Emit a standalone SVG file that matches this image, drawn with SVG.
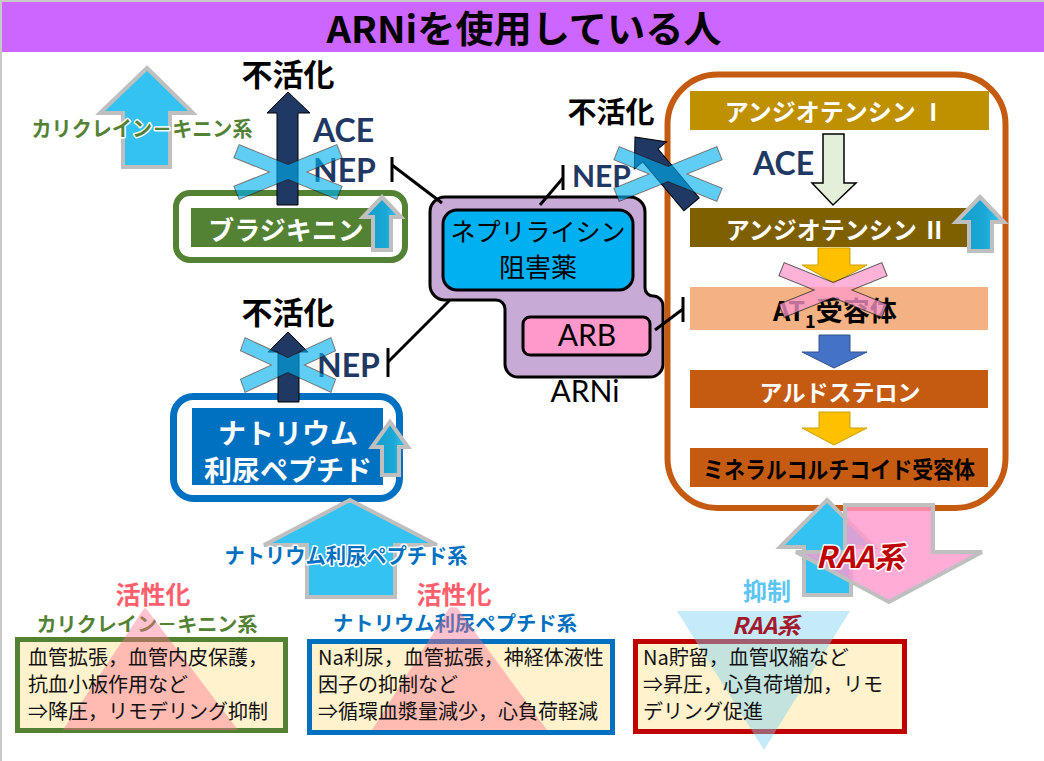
<svg xmlns="http://www.w3.org/2000/svg" xmlns:xlink="http://www.w3.org/1999/xlink" width="1044" height="761" viewBox="0 0 1044 761">
<style>
.jp{font-family:'Noto Sans CJK JP',sans-serif}
.lat{font-family:Lato,'Noto Sans CJK JP',sans-serif}
.b{font-weight:700}
.navy{fill:#1F3864}
.wt{fill:#fff}
.ga{stroke:#BFBFBF;stroke-width:4}
.na{fill:#1F3864;stroke:#000;stroke-width:1}
.inh{stroke:#000;stroke-width:3;fill:none}
.ol{stroke:#fff;stroke-width:3;paint-order:stroke;stroke-linejoin:round}
.body{font-size:20px;fill:#111}
.cream{fill:#FFF2CC}
</style>
<defs>
<rect id="bar" x="-55" y="-6.5" width="110" height="13"/>
<g id="xcross">
<g stroke="#222" stroke-width="2" fill="none"><use href="#bar" transform="rotate(22)"/><use href="#bar" transform="rotate(-22)"/></g>
<g stroke="none"><use href="#bar" transform="rotate(22)"/><use href="#bar" transform="rotate(-22)"/></g>
</g>
<linearGradient id="sg" x1="0" y1="0" x2="1" y2="0">
<stop offset="0" stop-color="#139DCB"/><stop offset="0.6" stop-color="#1AA8D6"/><stop offset="1" stop-color="#3CC8F5"/>
</linearGradient>
</defs>

<rect x="0" y="0" width="1044" height="761" fill="#fff"/>
<line x1="1" y1="0" x2="1" y2="761" stroke="#C8C8C8" stroke-width="2"/>
<line x1="0" y1="1" x2="1044" y2="1" stroke="#C8C8C8" stroke-width="2"/>

<g id="title">
<rect x="2" y="2" width="1042" height="50" fill="#CC66FF"/>
<text class="jp b" x="524" y="43" font-size="37" text-anchor="middle" textLength="395" lengthAdjust="spacingAndGlyphs" fill="#000">ARNiを使用している人</text>
</g>

<g id="kallikrein-top">
<polygon class="ga" points="147,68 193,113 170,113 170,167 123,167 123,113 100,113" fill="#33C2F2"/>
<text class="jp b ol" x="142" y="136" font-size="21" text-anchor="middle" textLength="221" lengthAdjust="spacingAndGlyphs" fill="#548235">カリクレイン－キニン系</text>
</g>

<g id="bradykinin">
<rect x="176" y="193" width="229" height="67" rx="14" fill="#fff" stroke="#548235" stroke-width="6"/>
<rect x="191" y="208" width="187" height="39" fill="#548235"/>
<text class="jp b wt" x="286" y="240" font-size="26" text-anchor="middle">ブラジキニン</text>
<polygon class="ga" points="382,197 401,217 391,217 391,250 373,250 373,217 363,217" fill="url(#sg)" stroke-width="3"/>
</g>

<g id="inactivation-1">
<text class="jp b" x="288" y="86" font-size="31" text-anchor="middle" fill="#000">不活化</text>
<polygon class="na" points="288,92 310,113 298,113 298,205 277,205 277,113 267,113"/>
<text class="lat b navy" x="313" y="142" font-size="32">ACE</text>
<text class="lat b navy" x="313" y="182" font-size="32">NEP</text>
<use href="#xcross" fill="#00B0F0" opacity="0.62" transform="translate(288,172)"/>
</g>

<g id="natriuretic">
<rect x="173.5" y="396.5" width="226" height="102" rx="20" fill="#fff" stroke="#0070C0" stroke-width="7"/>
<rect x="192" y="408" width="191" height="77" fill="#0070C0"/>
<text class="jp b wt" x="288" y="444" font-size="28" text-anchor="middle">ナトリウム</text>
<text class="jp b wt" x="288" y="481" font-size="28" text-anchor="middle">利尿ペプチド</text>
<polygon class="ga" points="390,422 408,447 399,447 399,475 382,475 382,447 372,447" fill="url(#sg)" stroke-width="3"/>
</g>

<g id="inactivation-2">
<text class="jp b" x="288" y="324" font-size="31" text-anchor="middle" fill="#000">不活化</text>
<polygon class="na" points="288,332 308,352 299,352 299,402 278,402 278,352 268,352"/>
<text class="lat b navy" x="317" y="377" font-size="32">NEP</text>
<use href="#xcross" fill="#00B0F0" opacity="0.62" transform="translate(288,365) scale(0.88,1)"/>
</g>

<g id="natriuretic-system-arrow">
<polygon class="ga" points="350,500 437,545 395,545 395,597 307,597 307,545 264,545" fill="#33C2F2"/>
<text class="jp b ol" x="346" y="563" font-size="21" text-anchor="middle" textLength="243" lengthAdjust="spacingAndGlyphs" fill="#0070C0">ナトリウム利尿ペプチド系</text>
</g>

<g id="arni">
<path d="M445 197 H630 A15 15 0 0 1 645 212 V288 A8 8 0 0 0 653 296 A10 10 0 0 1 663 306 V364 A13 13 0 0 1 650 377 H518 A13 13 0 0 1 505 364 V309 A9 9 0 0 0 496 300 H445 A15 15 0 0 1 430 285 V212 A15 15 0 0 1 445 197 Z" fill="#C8AAD7" stroke="#000" stroke-width="3"/>
<rect x="443" y="210" width="190" height="80" rx="14" fill="#00B0F0" stroke="#000" stroke-width="3"/>
<text class="jp" x="538" y="241" font-size="25" text-anchor="middle" fill="#000">ネプリライシン</text>
<text class="jp" x="538" y="277" font-size="26" text-anchor="middle" fill="#000">阻害薬</text>
<rect x="523" y="317" width="127" height="38" rx="7" fill="#FF99CC" stroke="#000" stroke-width="3"/>
<text class="lat" x="587" y="346" font-size="30" text-anchor="middle" fill="#000">ARB</text>
<text class="lat" x="585" y="402" font-size="30" text-anchor="middle" fill="#000">ARNi</text>
</g>

<g id="raa-frame">
<rect x="667.5" y="74.5" width="338" height="433.5" rx="50" fill="#fff" stroke="#C55A11" stroke-width="6"/>
</g>

<g id="angiotensin-1">
<rect x="690" y="91" width="299" height="39" fill="#BF9000"/>
<text class="jp b wt" x="835" y="121" font-size="24" text-anchor="middle">アンジオテンシン Ⅰ</text>
</g>
<g id="ace-label">
<text class="lat b navy" x="753" y="175" font-size="32">ACE</text>
</g>
<g id="angiotensin-2">
<rect x="690" y="208" width="277" height="39" fill="#7F6000"/>
<text class="jp b wt" x="836" y="239" font-size="24" text-anchor="middle">アンジオテンシン Ⅱ</text>
<polygon class="ga" points="980,197 1004,222 992,222 992,251 969,251 969,222 956,222" fill="url(#sg)" stroke-width="3"/>
</g>
<g id="at1">
<rect x="690" y="287" width="298" height="43" fill="#F4B183"/>
<text class="jp b" x="773" y="321" font-size="27" fill="#000">AT<tspan font-size="18" dy="7">1</tspan><tspan dy="-7">受容体</tspan></text>
</g>
<g id="aldosterone">
<rect x="690" y="370" width="298" height="38" fill="#C55A11"/>
<text class="jp b wt" x="840" y="401" font-size="23" text-anchor="middle">アルドステロン</text>
</g>
<g id="mr">
<rect x="690" y="448" width="298" height="39" fill="#C55A11"/>
<text class="jp b" x="839" y="478" font-size="23" text-anchor="middle" textLength="272" lengthAdjust="spacingAndGlyphs" fill="#000">ミネラルコルチコイド受容体</text>
</g>

<g id="connectors">
<polygon points="823,134 844,134 844,183 856,183 833,205 812,183 823,183" fill="#E2F0D9" stroke="#000" stroke-width="1.5"/>
<polygon points="818,248 850,248 850,265 867,265 834,283 802,265 818,265" fill="#FFC000" stroke="#C9A000" stroke-width="1"/>
<polygon points="819,335 850,335 850,352 867,352 834,368 802,352 819,352" fill="#4472C4" stroke="#2F528F" stroke-width="1"/>
<polygon points="819,412 850,412 850,428 867,428 834,445 802,428 819,428" fill="#FFC000" stroke="#C9A000" stroke-width="1"/>
<line class="inh" x1="392" y1="157" x2="392" y2="182"/>
<line class="inh" x1="392" y1="165" x2="442" y2="203"/>
<line class="inh" x1="388" y1="348" x2="388" y2="377"/>
<line class="inh" x1="388" y1="362" x2="450" y2="300"/>
<line class="inh" x1="563" y1="165" x2="563" y2="190"/>
<line class="inh" x1="563" y1="178" x2="540" y2="205"/>
<line class="inh" x1="683" y1="297" x2="683" y2="322"/>
<line class="inh" x1="655" y1="330" x2="683" y2="309"/>
</g>

<g id="at1-block">
<use href="#xcross" fill="#FF99CC" opacity="0.75" transform="translate(833,290)"/>
</g>

<g id="inactivation-3">
<text class="jp b" x="611" y="123" font-size="29" text-anchor="middle" fill="#000">不活化</text>
<text class="lat b navy" x="572" y="187" font-size="30">NEP</text>
<polygon class="na" points="0,0 21,24 10,24 10,88 -10,88 -10,24 -21,24" transform="translate(635,137) rotate(-40)"/>
<use href="#xcross" fill="#00B0F0" opacity="0.62" transform="translate(668,174)"/>
</g>

<g id="raa-arrows">
<polygon class="ga" points="827,500 874,547 851,547 851,595 804,595 804,547 780,547" fill="#33C2F2"/>
<polygon class="ga" points="845,505 933,505 933,552 982,552 889,602 796,552 845,552" fill="#FF99CC" fill-opacity="0.8"/>
<text class="jp b ol" x="860" y="568" font-size="30" text-anchor="middle" font-style="italic" fill="#C00000">RAA系</text>
<text class="jp b ol" x="767" y="600" font-size="24" text-anchor="middle" fill="#5CC6F2">抑制</text>
</g>

<g id="effect-kallikrein">
<rect x="17.5" y="639.5" width="268" height="91" class="cream" stroke="#548235" stroke-width="5"/>
<text class="jp b ol" x="147" y="632" font-size="20" text-anchor="middle" textLength="221" lengthAdjust="spacingAndGlyphs" fill="#548235">カリクレイン－キニン系</text>
<polygon points="145,607 238,730 63,730" fill="#FF6E8C" fill-opacity="0.42"/>
<text class="jp b ol" x="153" y="604" font-size="25" text-anchor="middle" fill="#FF5F6D">活性化</text>
<text class="jp body" x="28" y="665">血管拡張，血管内皮保護，</text>
<text class="jp body" x="28" y="692">抗血小板作用など</text>
<text class="jp body" x="28" y="719">⇒降圧，リモデリング抑制</text>
</g>

<g id="effect-natriuretic">
<rect x="309.5" y="641.5" width="303" height="91" class="cream" stroke="#0070C0" stroke-width="5"/>
<text class="jp b ol" x="455" y="631" font-size="20" text-anchor="middle" textLength="244" lengthAdjust="spacingAndGlyphs" fill="#0070C0">ナトリウム利尿ペプチド系</text>
<polygon points="453,602 547,730 372,730" fill="#FF6E8C" fill-opacity="0.42"/>
<text class="jp b ol" x="454" y="604" font-size="25" text-anchor="middle" fill="#FF5F6D">活性化</text>
<text class="jp body" x="318" y="665">Na利尿，血管拡張，神経体液性</text>
<text class="jp body" x="318" y="692">因子の抑制など</text>
<text class="jp body" x="318" y="719">⇒循環血漿量減少，心負荷軽減</text>
</g>

<g id="effect-raa">
<rect x="635.5" y="641.5" width="269" height="90" class="cream" stroke="#C00000" stroke-width="5"/>
<polygon points="677,611 850,611 764,750" fill="#7FD0F5" fill-opacity="0.45"/>
<text class="jp b" x="766" y="634" font-size="23" text-anchor="middle" font-style="italic" fill="#A31A2F">RAA系</text>
<text class="jp body" x="643" y="665">Na貯留，血管収縮など</text>
<text class="jp body" x="643" y="692">⇒昇圧，心負荷増加，リモ</text>
<text class="jp body" x="643" y="719">デリング促進</text>
</g>
</svg>
